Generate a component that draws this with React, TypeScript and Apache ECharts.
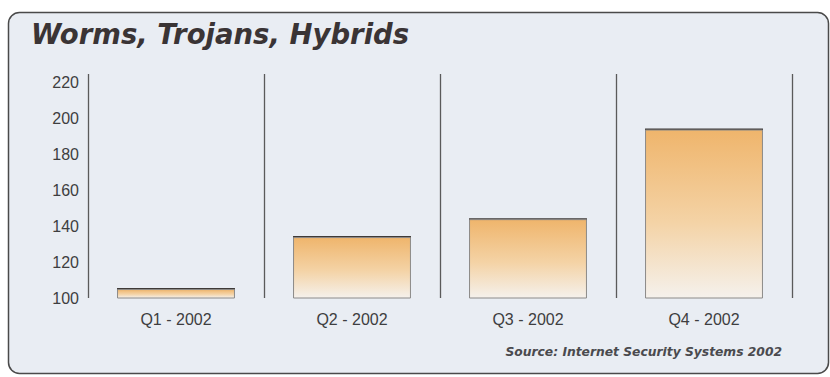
import React, { useEffect, useRef } from "react";
import * as echarts from "echarts";

const categories = ["Q1 - 2002", "Q2 - 2002", "Q3 - 2002", "Q4 - 2002"];
const values = [105, 134, 144, 194];
const titleText = "Worms, Trojans, Hybrids";
const sourceText = "Source: Internet Security Systems 2002";

export default function App() {
  const ref = useRef<HTMLDivElement>(null);
  useEffect(() => {
    if (!ref.current) return;
    const chart = echarts.init(ref.current, null, { renderer: "svg" });
    const font = "'Liberation Sans', Arial, sans-serif";
    const wide = "'DejaVu Sans', Verdana, sans-serif";
    chart.setOption({
      animation: false,
      graphic: [
        {
          type: "rect",
          z: -10,
          shape: { x: 8.5, y: 12.5, width: 820, height: 361, r: 11 },
          style: { fill: "#e9edf3", stroke: "#4a4a4a", lineWidth: 1.5 },
        },
        {
          type: "text",
          left: 31,
          top: 20,
          style: {
            text: titleText,
            font: `italic bold 27.5px ${wide}`,
            fill: "#3a3435",
          },
        },
        {
          type: "text",
          right: 48,
          top: 346,
          style: {
            text: sourceText,
            font: `italic bold 12.3px ${wide}`,
            fill: "#4a4a4e",
          },
        },
      ],
      grid: { left: 88, right: 38, top: 74, bottom: 79 },
      xAxis: {
        type: "category",
        data: categories,
        boundaryGap: true,
        axisLine: { show: false },
        axisTick: { show: false },
        axisLabel: {
          margin: 13,
          fontFamily: font,
          fontSize: 16,
          color: "#3e3e40",
        },
        splitLine: {
          show: true,
          lineStyle: { color: "#5a5a5a", width: 1.3 },
        },
      },
      yAxis: {
        type: "value",
        min: 100,
        max: 225,
        interval: 20,
        axisLine: { show: false },
        axisTick: { show: false },
        splitLine: { show: false },
        axisLabel: {
          showMaxLabel: false,
          margin: 9,
          fontFamily: font,
          fontSize: 16,
          color: "#3e3e40",
        },
      },
      series: [
        {
          type: "bar",
          data: values,
          barWidth: "67%",
          itemStyle: {
            color: new echarts.graphic.LinearGradient(0, 0, 0, 1, [
              { offset: 0, color: "#efb56c" },
              { offset: 0.55, color: "#f4d3a6" },
              { offset: 1, color: "#f5f1ec" },
            ]),
            borderColor: "#8c8a88",
            borderWidth: 1,
          },
        },
        {
          type: "custom",
          data: values.map((v, i) => [i, v]),
          renderItem: (params: any, api: any) => {
            const p = api.coord([api.value(0), api.value(1)]);
            const w = api.size([1, 0])[0] * 0.67;
            return {
              type: "line",
              shape: { x1: p[0] - w / 2, y1: p[1], x2: p[0] + w / 2, y2: p[1] },
              style: { stroke: "#3e3a38", lineWidth: 2 },
            };
          },
        },
      ],
    });
    return () => chart.dispose();
  }, []);
  return (
    <div
      ref={ref}
      style={{ position: "fixed", left: 0, top: 0, width: 830, height: 377, background: "#fff" }}
    />
  );
}
